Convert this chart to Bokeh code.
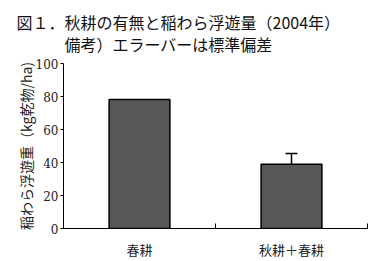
from bokeh.plotting import figure
from bokeh.models import ColumnDataSource, FixedTicker, Range1d, Whisker, TeeHead
from bokeh.embed import file_html
from bokeh.resources import INLINE

categories = ["春耕", "秋耕＋春耕"]
values = [78.2, 38.9]
errors = [0.0, 6.5]
y_ticks = [0, 20, 40, 60, 80, 100]
title_lines = ["図１．秋耕の有無と稲わら浮遊量（2004年）", "\u3000\u3000\u3000備考）エラーバーは標準偏差"]

xs = [i + 0.5 for i in range(len(categories))]
upper = [v + e for v, e in zip(values, errors)]
src = ColumnDataSource(dict(x=xs, top=values, upper=upper))
err_src = ColumnDataSource(dict(x=xs[1:], top=values[1:], upper=upper[1:]))

p = figure(width=379, height=261, output_backend="svg", toolbar_location=None,
           x_range=Range1d(0, len(categories)), y_range=Range1d(0, 100),
           title="\n".join(title_lines),
           min_border_left=63, min_border_right=12, min_border_top=10,
           min_border_bottom=33)
p.outline_line_color = None
p.grid.grid_line_color = None
p.background_fill_color = "white"
p.border_fill_color = "white"

p.title.align = "left"
p.title.offset = -47
p.title.text_font = "Noto Sans CJK JP"
p.title.text_font_size = "16px"
p.title.text_font_style = "normal"
p.title.text_color = "#111111"
p.title.text_line_height = 0.95
p.title.standoff = 14

p.vbar(x="x", top="top", width=0.4, bottom=0, source=src,
       fill_color="#575757", line_color="black", line_width=1.5)
p.add_layout(Whisker(base="x", upper="upper", lower="top", source=err_src,
                     lower_head=None,
                     upper_head=TeeHead(size=12, line_width=1.5, line_color="black"),
                     line_color="black", line_width=1.5))

# y axis
ya = p.yaxis[0]
ya.ticker = FixedTicker(ticks=y_ticks, minor_ticks=[])
ya.major_tick_in = 0
ya.major_tick_out = 3
ya.major_label_standoff = 2
ya.major_label_text_font = "DejaVu Serif"
ya.major_label_text_font_size = "12px"
ya.major_label_text_color = "#222222"
ya.axis_label = "稲わら浮遊重（kg乾物/ha)"
ya.axis_label_text_font = "Noto Sans CJK JP"
ya.axis_label_text_font_size = "14px"
ya.axis_label_text_font_style = "normal"
ya.axis_label_text_color = "#222222"
ya.axis_label_standoff = -3
ya.axis_line_color = "black"

# x axis
xa = p.xaxis[0]
xa.ticker = FixedTicker(ticks=xs, minor_ticks=list(range(len(categories) + 1)))
xa.major_label_overrides = {x: c for x, c in zip(xs, categories)}
xa.major_tick_line_color = None
xa.minor_tick_in = 5
xa.minor_tick_out = 0
xa.minor_tick_line_color = "black"
xa.major_label_standoff = 5
xa.major_label_text_font = "Noto Sans CJK JP"
xa.major_label_text_font_size = "13px"
xa.major_label_text_color = "#222222"
xa.axis_line_color = "black"

open("out.html", "w").write(file_html(p, INLINE))
